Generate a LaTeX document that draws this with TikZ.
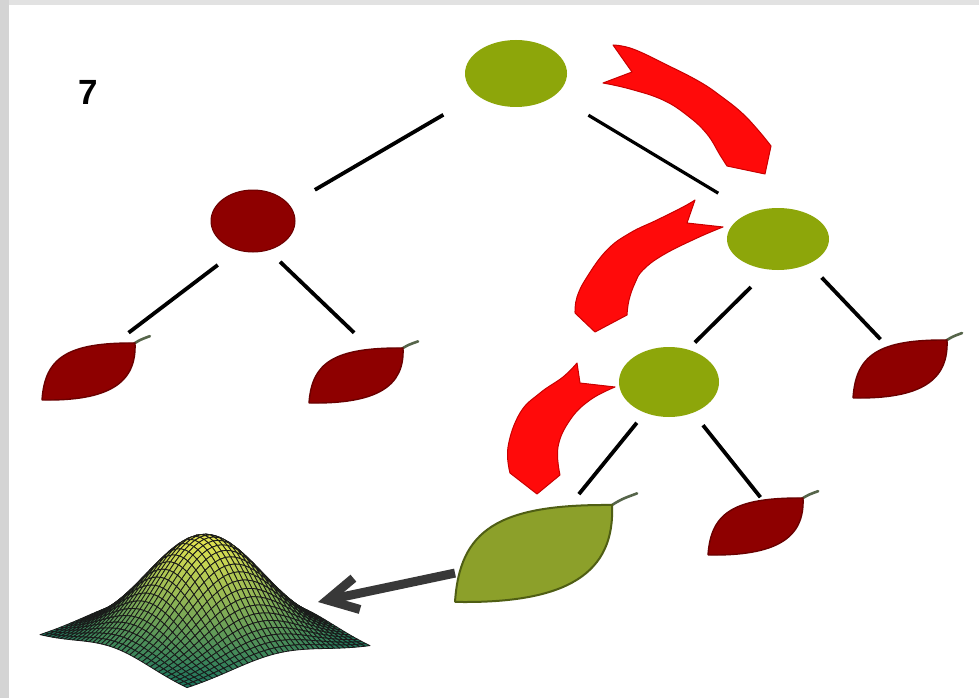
\documentclass[tikz,border=0pt]{standalone}
\usepackage{fontspec}
\newfontfamily\labelfont{Liberation Sans}
\usetikzlibrary{shapes.geometric,arrows.meta}

\definecolor{nodegreen}{HTML}{8DA60A}
\definecolor{nodered}{HTML}{8E0000}
\definecolor{noderededge}{HTML}{6A0000}
\definecolor{leafgreen}{HTML}{8CA02A}
\definecolor{leafgreenedge}{HTML}{4F5E14}
\definecolor{stemcol}{HTML}{56654A}
\definecolor{flowred}{HTML}{FF0A0A}
\definecolor{flowrededge}{HTML}{C80000}
\definecolor{framegrey}{HTML}{E2E2E2}
\definecolor{framegreyside}{HTML}{D4D4D4}
\definecolor{pointergrey}{HTML}{383838}
\definecolor{surflo}{HTML}{18705C}
\definecolor{surfhi}{HTML}{E6E650}

\tikzset{
  treenode/.style={ellipse, inner sep=0pt, outer sep=0pt, draw=none},
  splitnode/.style={treenode, fill=nodegreen},
  termnode/.style={treenode, fill=nodered, draw=noderededge, line width=1},
  leafbox/.style={rectangle, inner sep=0pt, outer sep=0pt, draw=none},
  edge/.style={line width=3.8, black},
  flow/.style={fill=flowred, draw=flowrededge, line width=1, line join=round},
  pointer/.style={line width=9, pointergrey, -{Straight Barb[length=30, width=32]}},
  darkleaf/.style={fill=nodered, draw=noderededge, line width=1.4},
  greenleaf/.style={fill=leafgreen, draw=leafgreenedge, line width=2},
}

% leaf outline drawn inside the box of a named leaf node
\newcommand\leafshape[4]{%
  \begin{scope}[shift={(#1.north west)}, xscale=#2, yscale=#3]
    \draw[stemcol, line width=2.6, line cap=round] (0.99,0.01) .. controls (1.06,-0.06) .. (1.16,-0.12);
    \filldraw[#4] (0,1) .. controls (0.03,0.26) and (0.27,-0.01) .. (1,0)
                        .. controls (1.02,0.7) and (0.72,1.02) .. cycle;
  \end{scope}}

\begin{document}
\begin{tikzpicture}[x=1pt, y=-1pt,
  declare function={
    gz(\s,\t)=exp(-1.9*((2*\s-1)*(2*\s-1)+(2*\t-1)*(2*\t-1)));
    sx(\s,\t)=187-147*\s+183*\t;
    sy(\s,\t)=690-53*\s-42*\t-107*gz(\s,\t);
  }]
  \useasboundingbox (0,0) rectangle (979,698);
  \fill[white] (0,0) rectangle (979,698);
  \fill[framegrey] (0,0) rectangle (979,5);
  \fill[framegreyside] (0,0) rectangle (9,698);

  % Gaussian surface, painted back to front
  \foreach \i in {35,...,0}{
    \foreach \j in {35,...,0}{
      \pgfmathsetmacro\sa{\i/36}
      \pgfmathsetmacro\sb{(\i+1)/36}
      \pgfmathsetmacro\ta{\j/36}
      \pgfmathsetmacro\tb{(\j+1)/36}
      \pgfmathsetmacro\zm{gz((\sa+\sb)/2,(\ta+\tb)/2)}
      \pgfmathtruncatemacro\pct{min(100,100*(\zm)^0.9)}
      \filldraw[fill=surfhi!\pct!surflo, draw=black!90, line width=0.8, line join=round]
        ({sx(\sa,\ta)},{sy(\sa,\ta)}) -- ({sx(\sb,\ta)},{sy(\sb,\ta)})
        -- ({sx(\sb,\tb)},{sy(\sb,\tb)}) -- ({sx(\sa,\tb)},{sy(\sa,\tb)}) -- cycle;
    }
  }
  \coordinate (surftip) at (318,602);

  % label
  \node[font=\labelfont\bfseries\fontsize{35}{40}\selectfont, inner sep=0pt] (num) at (88.5,92.5) {7};

  % tree nodes
  \node[splitnode, minimum width=102, minimum height=67] (root) at (516,73.5) {};
  \node[termnode,  minimum width=84,  minimum height=62] (lc)   at (253,221) {};
  \node[splitnode, minimum width=102, minimum height=62] (rc)   at (778,239) {};
  \node[splitnode, minimum width=100, minimum height=70] (mc)   at (669,382) {};

  % leaves
  \node[leafbox, minimum width=93,  minimum height=57] (leafA) at (88.5,371.5) {};
  \node[leafbox, minimum width=94,  minimum height=55] (leafB) at (356,375.5) {};
  \node[leafbox, minimum width=94,  minimum height=58] (leafC) at (900,369) {};
  \node[leafbox, minimum width=95,  minimum height=57] (leafD) at (755.5,526.5) {};
  \node[leafbox, minimum width=157, minimum height=97] (leafG) at (533.5,553.5) {};
  \leafshape{leafA}{93}{57}{darkleaf}
  \leafshape{leafB}{94}{55}{darkleaf}
  \leafshape{leafC}{94}{58}{darkleaf}
  \leafshape{leafD}{95}{57}{darkleaf}
  \leafshape{leafG}{157}{97}{greenleaf}

  % tree edges
  \draw[edge, shorten <=39, shorten >=30] (root.209) -- (lc.24);
  \draw[edge, line width=3.2, shorten <=39, shorten >=38] (root.-29) -- (rc.136);
  \draw[edge, shorten <=25, shorten >=17] (lc.242) -- (leafA.47);
  \draw[edge, shorten <=17, shorten >=22] (lc.-63) -- (leafB.63);
  \draw[edge, shorten <=25, shorten >=10] (rc.253) -- (mc.60);
  \draw[edge, shorten <=19, shorten >=1] (rc.-39) -- (leafC.123);
  \draw[edge, shorten <=13, shorten >=14] (mc.232) -- (leafG.53);
  \draw[edge, shorten <=16, shorten >=1] (mc.-52) -- (leafD.79);

  % path of a sample down the tree
  \filldraw[flow] (613,45) -- (632,72) -- (603,83)
    -- plot[smooth, tension=0.7] coordinates {(603,83) (630,89) (663,100) (688,116) (707,134) (720,155) (727,166)}
    -- (765,174) -- (771,146)
    -- plot[smooth, tension=0.7] coordinates {(771,146) (758,130) (742,113) (722,97) (700,82) (667,65) (633,49) (613,45)}
    -- cycle;
  \filldraw[flow] (695,200) -- (687,223) -- (723,227)
    -- plot[smooth, tension=0.7] coordinates {(723,227) (697,238) (663,255) (643,270) (635,283) (629,300) (627,315)}
    -- (595,332) -- (575,313)
    -- plot[smooth, tension=0.7] coordinates {(575,313) (577,297) (587,277) (607,250) (630,233) (657,220) (683,207) (695,200)}
    -- cycle;
  \filldraw[flow] (577,363) -- (580,383) -- (615,387)
    -- plot[smooth, tension=0.7] coordinates {(615,387) (590,400) (570,420) (558,447) (560,475)}
    -- (537,494) -- (510,473)
    -- plot[smooth, tension=0.7] coordinates {(510,473) (508,447) (520,413) (540,393) (563,377) (577,363)}
    -- cycle;

  % leaf model
  \draw[pointer] (leafG.194) -- (surftip);
\end{tikzpicture}
\end{document}
